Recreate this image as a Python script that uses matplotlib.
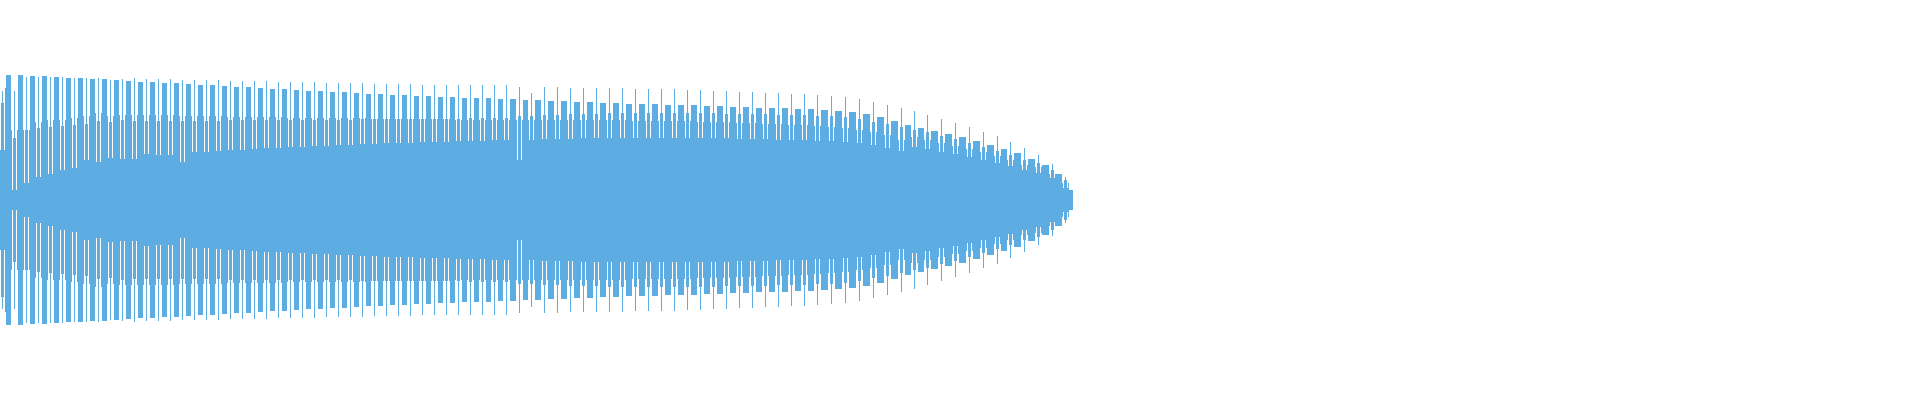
import numpy as np
import matplotlib
matplotlib.use("Agg")
import matplotlib.pyplot as plt

# ---- data: one entry per beat of the waveform (amplitudes in px units) ----
beat_pos = [2, 14, 26, 38, 50, 62, 74, 86, 98, 110, 122, 134, 146, 158, 170, 182, 194,
            206, 218, 230, 242, 254, 266, 278, 290, 302, 314, 326, 338, 350, 362, 374,
            386, 398, 410, 422, 434, 446, 458, 470, 482, 494, 506,
            519, 531, 544, 557, 570, 583, 596, 609, 622, 635, 648, 661, 674, 687,
            700, 713, 726, 739, 752, 765, 778, 791, 804, 817, 831, 845, 859, 873, 887,
            901, 914, 927, 941, 955, 969, 983, 997, 1010, 1024, 1038, 1052, 1065]
beat_peak = [109, 109, 123, 123, 123, 123, 122, 122, 122, 120, 121, 122, 121, 121, 121, 120, 120,
             120, 120, 119, 119, 119, 119, 118, 118, 118, 118, 117, 117, 117, 117, 116,
             116, 116, 116, 115, 115, 115, 115, 115, 115, 115, 115,
             113, 107, 113, 113, 112, 112, 112, 112, 112, 111, 111, 111, 111, 110,
             110, 109, 109, 108, 108, 107, 107, 106, 106, 105, 104, 103, 101, 98, 95,
             92, 89, 85, 81, 77, 73, 68, 64, 58, 52, 45, 36, 23]
beat_body = [125, 125, 124, 124, 123, 122, 122, 121, 121, 120, 119, 118, 118, 117, 117, 116, 115,
             115, 114, 113, 113, 112, 111, 111, 110, 109, 109, 108, 108, 107, 106, 106,
             105, 105, 104, 104, 103, 103, 102, 102, 102, 101, 101,
             100, 100, 99, 99, 98, 98, 97, 97, 96, 96, 96, 95, 95, 95,
             94, 94, 93, 93, 92, 92, 92, 91, 91, 90, 89, 88, 86, 83, 79,
             75, 72, 69, 66, 63, 59, 55, 51, 47, 41, 35, 26, 10]
beat_inner = [97, 62, 70, 72, 73, 74, 75, 76, 79, 78, 80, 79, 79, 79, 79, 79, 79,
              79, 79, 80, 80, 80, 80, 80, 80, 80, 80, 80, 80, 80, 81, 81,
              81, 81, 81, 81, 81, 81, 81, 82, 82, 82, 82,
              84, 84, 85, 85, 86, 86, 86, 87, 87, 87, 87, 87, 87, 87,
              87, 87, 86, 86, 86, 86, 85, 85, 85, 84, 84, 83, 81, 78, 76,
              73, 70, 68, 64, 61, 57, 53, 49, 45, 40, 37, 30, 20]
beat_notch = [50, 10, 17, 23, 26, 30, 32, 40, 38, 42, 41, 41, 46, 45, 45, 38, 48,
              48, 49, 50, 50, 51, 52, 52, 53, 53, 54, 54, 55, 55, 56, 56,
              57, 57, 57, 58, 58, 58, 59, 59, 59, 60, 60,
              40, 60, 61, 61, 61, 62, 62, 62, 62, 62, 62, 62, 62, 62,
              62, 62, 62, 61, 61, 61, 60, 60, 60, 59, 59, 58, 57, 55, 52,
              49, 53, 51, 48, 46, 43, 40, 37, 34, 30, 27, 22, 12]
beat_outer = [112, 70, 70, 78, 80, 80, 82, 84, 87, 84, 85, 85, 85, 85, 85, 84, 84,
              84, 84, 83, 83, 83, 83, 83, 82, 82, 82, 82, 82, 82, 82, 81,
              81, 81, 81, 81, 81, 81, 80, 80, 80, 80, 80,
              80, 80, 80, 80, 80, 80, 80, 80, 80, 79, 79, 79, 79, 79,
              78, 78, 78, 77, 77, 76, 76, 75, 75, 74, 73, 72, 70, 68, 65,
              60, 63, 60, 57, 54, 51, 48, 44, 40, 35, 33, 26, 17]
n_cols = 1073
wave_color = "#5DADE2"

# ---- assemble one bar per pixel column from the beat table ----
amp = np.zeros(n_cols)
for i, p in enumerate(beat_pos):
    nxt = beat_pos[i + 1] if i + 1 < len(beat_pos) else n_cols + 3
    for c in range(p + 4, min(nxt - 3, n_cols)):
        amp[c] = beat_body[i]
    for off, val in ((0, beat_peak[i]), (-1, beat_inner[i]), (1, beat_inner[i]),
                     (-2, beat_notch[i]), (2, beat_notch[i]),
                     (-3, beat_outer[i]), (3, beat_outer[i])):
        c = p + off
        if 0 <= c < n_cols:
            amp[c] = val

cols = np.arange(n_cols)

fig = plt.figure(figsize=(19.2, 4.0), dpi=100)
ax = fig.add_axes([0, 0, 1, 1])
ax.bar(cols, 2 * amp, bottom=-amp, width=1.0, align="edge",
       color=wave_color, linewidth=0)
ax.set_xlim(0, 1920)
ax.set_ylim(-200.2, 199.8)
ax.axis("off")
fig.savefig("out.png", dpi=100, facecolor="white")
